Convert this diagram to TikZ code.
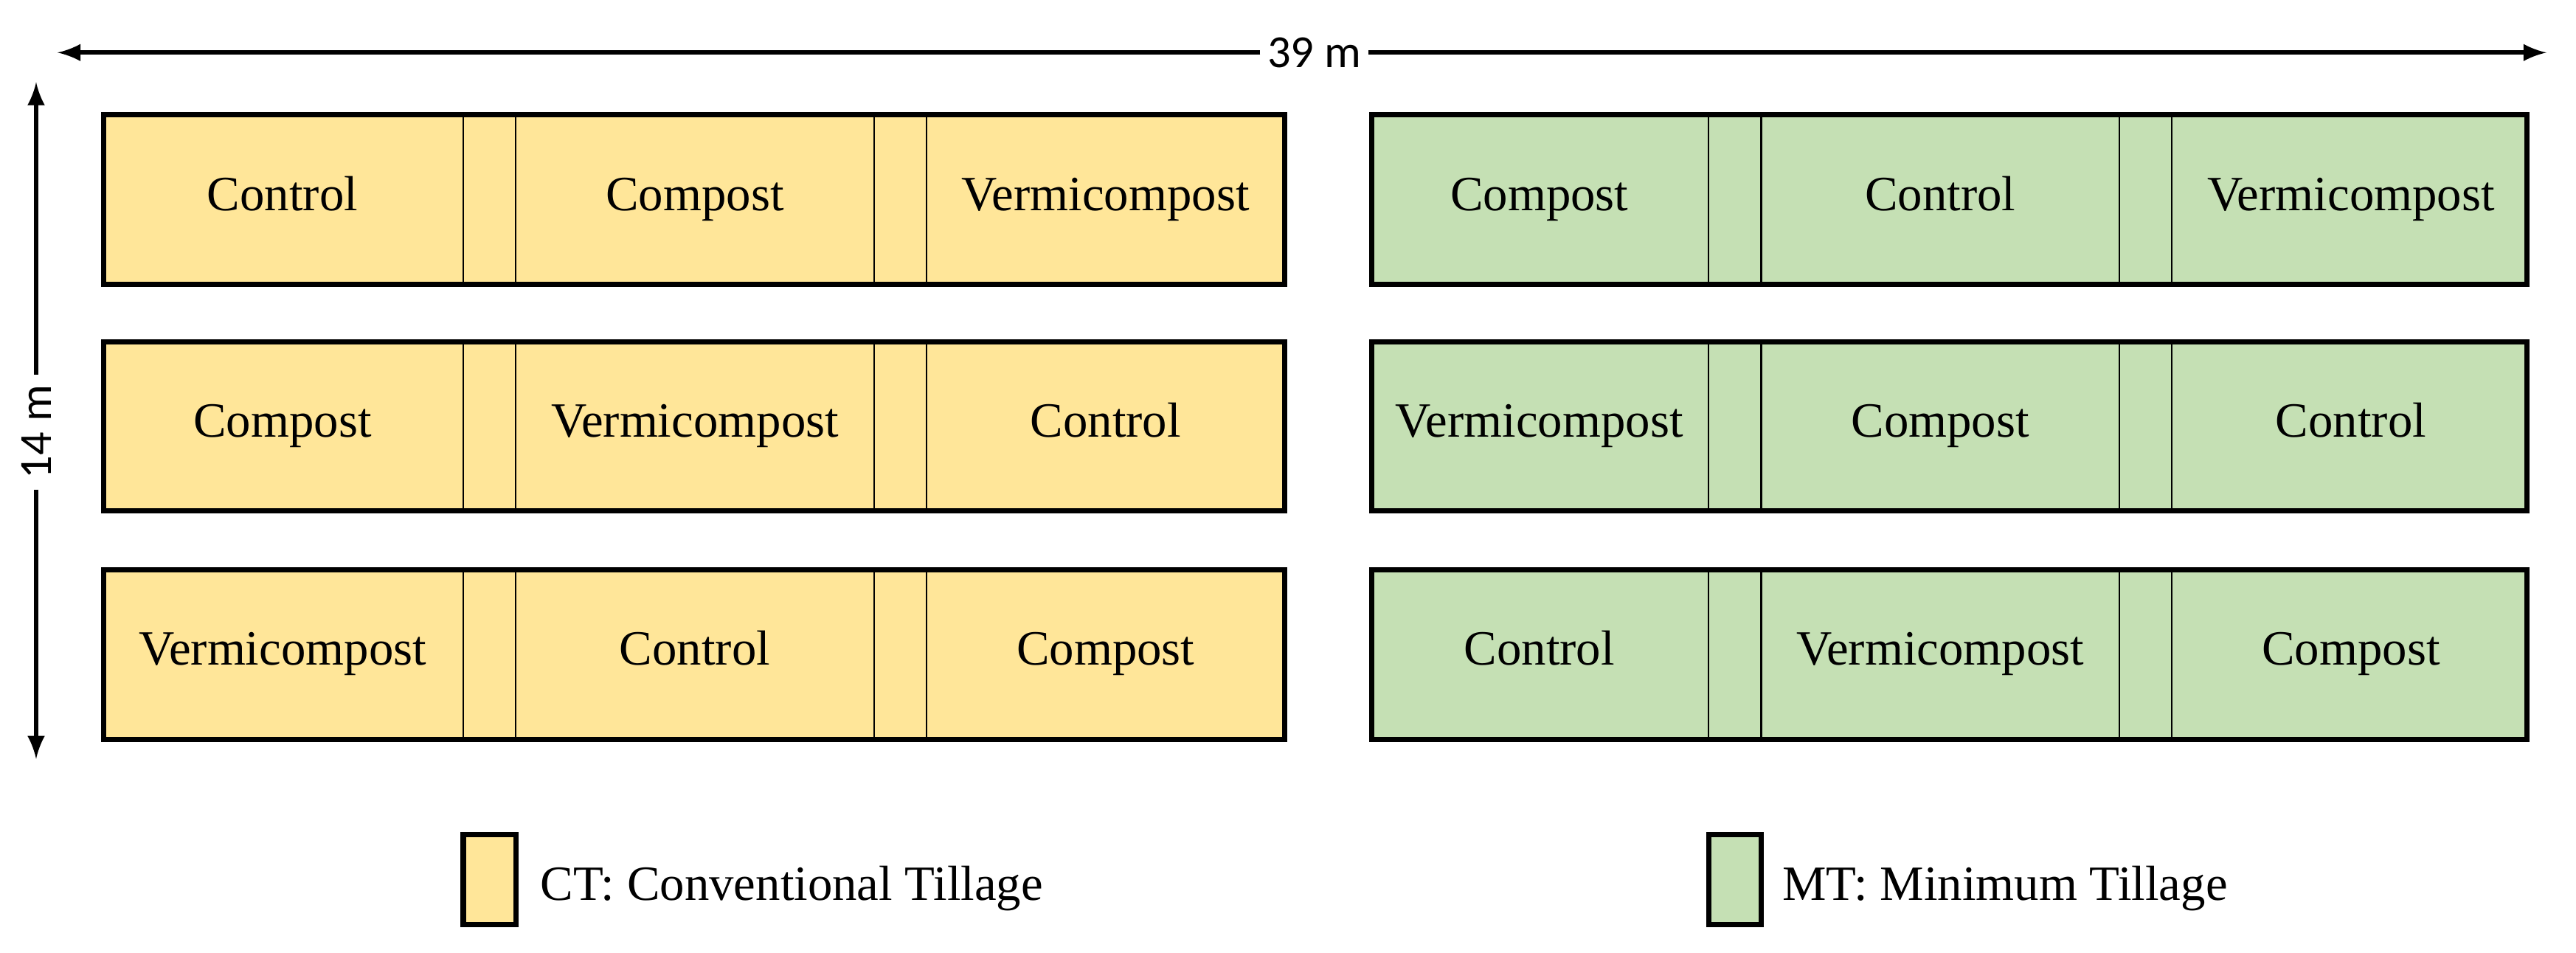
\documentclass[tikz,border=0pt]{standalone}
\usepackage{fontspec}
\setmainfont{Liberation Serif}
\newfontfamily\lblfont{Carlito}
\definecolor{ctcol}{HTML}{FFE699}
\definecolor{mtcol}{HTML}{C5E0B4}
\tikzset{
  rowbox/.style={draw=black,line width=1.6pt},
  sepline/.style={draw=black,line width=0.5pt},
  plottxt/.style={font=\fontsize{15}{17}\selectfont,text height=10pt,text depth=3pt},
  dimarrow/.style={-latex,line width=1.4pt},
}
\begin{document}
\begin{tikzpicture}[x=0.5pt,y=-0.5pt]
\useasboundingbox (0,0) rectangle (1568,580);
% rows
\foreach \y/\a/\b/\c/\d/\e/\f [count=\i] in {
  70/Control/Compost/Vermicompost/Compost/Control/Vermicompost,
  208/Compost/Vermicompost/Control/Vermicompost/Compost/Control,
  347/Vermicompost/Control/Compost/Control/Vermicompost/Compost}{
  \path[fill=ctcol] (63,\y) rectangle (782,\y+103);
  \foreach \x in {282,314,532,564} \draw[sepline] (\x,\y) -- (\x,\y+103);
  \draw[rowbox] (63,\y) rectangle (782,\y+103);
  \node[plottxt] (l\i a) at (172,\y+51) {\a};
  \node[plottxt] (l\i b) at (423,\y+51) {\b};
  \node[plottxt] (l\i c) at (673,\y+51) {\c};
  \path[fill=mtcol] (835,\y) rectangle (1538,\y+103);
  \foreach \x in {1040,1072,1290,1322} \draw[sepline] (\x,\y) -- (\x,\y+103);
  \draw[rowbox] (835,\y) rectangle (1538,\y+103);
  \node[plottxt] (r\i a) at (937,\y+51) {\d};
  \node[plottxt] (r\i b) at (1181,\y+51) {\e};
  \node[plottxt] (r\i c) at (1431,\y+51) {\f};
}
% dimensions
\node[font=\lblfont\fontsize{14}{16}\selectfont,inner sep=2pt] (w) at (800,32) {39 m};
\coordinate (wl) at (35,32); \coordinate (wr) at (1550,32);
\draw[dimarrow] (w.west) -- (wl);
\draw[dimarrow] (w.east) -- (wr);
\node[font=\lblfont\fontsize{14}{16}\selectfont,rotate=90,inner sep=3pt] (h) at (22,263) {14 m};
\coordinate (ht) at (22,50); \coordinate (hb) at (22,462);
\draw[dimarrow] (h.east) -- (ht);
\draw[dimarrow] (h.west) -- (hb);
% legend
\draw[rowbox,fill=ctcol] (282,508) rectangle (314,563);
\node[plottxt,anchor=west] (ctl) at (322,541) {CT: Conventional Tillage};
\draw[rowbox,fill=mtcol] (1040,508) rectangle (1072,563);
\node[plottxt,anchor=west] (mtl) at (1078,541) {MT: Minimum Tillage};
\end{tikzpicture}
\end{document}
